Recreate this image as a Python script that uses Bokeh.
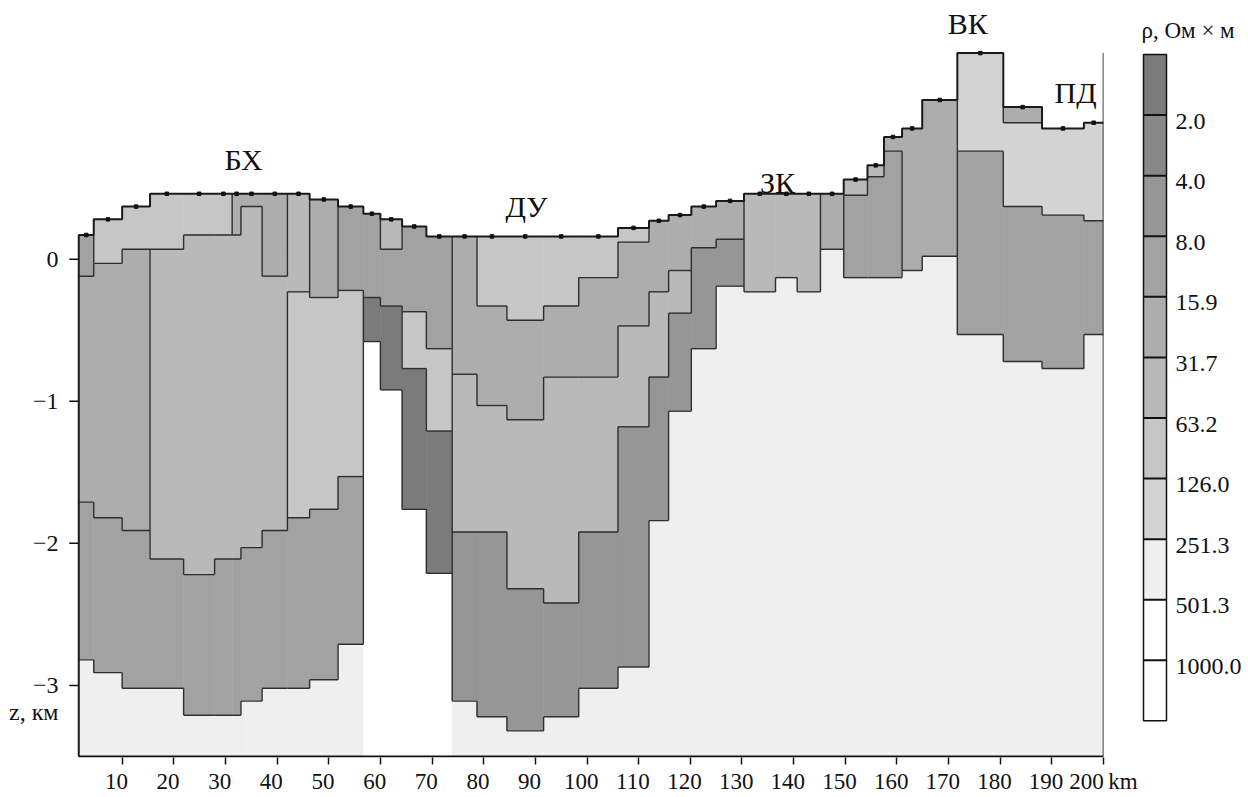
from bokeh.plotting import figure
from bokeh.layouts import row
from bokeh.models import Range1d, FixedTicker
from bokeh.embed import file_html
from bokeh.resources import INLINE
from bokeh.core.properties import value

SERIF = "Liberation Serif"

# resistivity class limits, Ohm*m (class 0 = most conductive)
rho_labels = ["2.0", "4.0", "8.0", "15.9", "31.7", "63.2", "126.0", "251.3", "501.3", "1000.0"]
class_colors = ["#7b7b7b", "#888888", "#969696", "#a2a2a2", "#adadad", "#b9b9b9",
                "#c6c6c6", "#d3d3d3", "#efefef", "#ffffff", "#ffffff"]

# model columns along the profile, km
col_edges = [1.6, 4.5, 10.0, 15.4, 21.9, 27.9, 31.3, 33.0, 37.1, 42.0, 46.3, 51.8,
             56.7, 60.0, 64.2, 68.9, 73.9, 78.7, 84.5, 91.6, 98.4, 106.0, 112.0,
             115.8, 120.2, 125.0, 130.4, 136.5, 140.7, 145.2, 149.7, 154.3, 157.5,
             161.0, 164.9, 171.7, 180.6, 188.1, 196.2, 200.0]

# relief (top of each column), km
surface = [0.17, 0.28, 0.37, 0.46, 0.46, 0.46, 0.46, 0.46, 0.46, 0.46, 0.42, 0.37,
           0.32, 0.28, 0.23, 0.16, 0.16, 0.16, 0.16, 0.16, 0.16, 0.22, 0.27,
           0.31, 0.37, 0.41, 0.46, 0.46, 0.46, 0.46, 0.56, 0.66, 0.86,
           0.92, 1.12, 1.45, 1.07, 0.92, 0.96]

# layer boundaries inside each column (z, km), top to bottom
interfaces = [
    [-0.12, -1.71, -2.82],
    [-0.03, -1.82, -2.91],
    [0.07, -1.91, -3.02],
    [0.07, -2.11, -3.02],
    [0.17, -2.22, -3.21],
    [0.17, -2.11, -3.21],
    [0.17, -2.11, -3.21],
    [0.37, -2.03, -3.11],
    [-0.12, -1.91, -3.02],
    [-0.23, -1.82, -3.02],
    [-0.27, -1.76, -2.96],
    [-0.22, -1.53, -2.71],
    [-0.27, -0.58],
    [0.07, -0.33, -0.92],
    [-0.37, -0.77, -1.76],
    [-0.63, -1.21, -2.21],
    [-0.81, -1.92, -3.11],
    [-0.33, -1.03, -1.92, -3.22],
    [-0.43, -1.13, -2.32, -3.32],
    [-0.33, -0.83, -2.42, -3.22],
    [-0.13, -0.83, -1.92, -3.02],
    [0.12, -0.47, -1.18, -2.87],
    [-0.23, -0.83, -1.84],
    [-0.08, -0.38, -1.07],
    [0.08, -0.63],
    [0.14, -0.19],
    [-0.23],
    [-0.13],
    [-0.23],
    [0.07],
    [0.45, -0.13],
    [0.58, -0.13],
    [0.76, -0.13],
    [-0.08],
    [0.02],
    [0.76, -0.53],
    [0.96, 0.37, -0.72],
    [0.31, -0.77],
    [0.27, -0.53],
]

# resistivity class of each layer, top to bottom
classes = [
    [3, 4, 3, 8], [6, 4, 3, 8], [6, 4, 3, 8], [6, 5, 3, 8], [6, 5, 3, 8],
    [6, 5, 3, 8], [4, 5, 3, 8], [4, 5, 3, 8], [4, 5, 3, 8], [5, 6, 3, 8],
    [4, 6, 3, 8], [3, 6, 3, 8], [3, 0, 9], [5, 3, 0, 9], [3, 6, 0, 9],
    [3, 6, 0, 9], [4, 5, 2, 8], [6, 4, 5, 2, 8], [6, 4, 5, 2, 8], [6, 4, 5, 2, 8],
    [6, 4, 5, 2, 8], [6, 4, 5, 2, 8], [4, 5, 2, 8], [4, 5, 2, 8], [4, 2, 8],
    [4, 2, 8], [5, 8], [5, 8], [5, 8], [4, 8],
    [5, 3, 8], [5, 3, 8], [4, 3, 8], [4, 8], [4, 8],
    [7, 3, 8], [4, 7, 3, 8], [7, 3, 8], [7, 3, 8],
]

region_names = ["БХ", "ДУ", "ЗК", "ВК", "ПД"]
region_x = [33.5, 88.3, 136.9, 173.7, 194.6]
region_z = [0.70, 0.37, 0.54, 1.66, 1.17]

x_ticks = list(range(10, 201, 10))
z_ticks = [0, -1, -2, -3]
z_title_pos = -3.19
Z_BOTTOM = -3.5
HIGH_RHO = {8, 9, 10}

# screen layout of the section
PX_PER_KM = 5.165
FRAME_L, FRAME_R = 68, 1103
FRAME_T, FRAME_B = 8, 757
FIG_W, FIG_H = 1141, 797
x_start = col_edges[-1] - (FRAME_R - FRAME_L) / PX_PER_KM
z_start = Z_BOTTOM - 1.0 / 142.1
z_end = z_start + (FRAME_B - FRAME_T) / 142.1
tick_km = 9.5 / PX_PER_KM

n_col = len(surface)

# ---- cells of the section ----
q_left, q_right, q_top, q_bottom, q_color = [], [], [], [], []
column_layers = []
for i in range(n_col):
    bounds = [surface[i]] + interfaces[i] + [Z_BOTTOM]
    layers = []
    for k, c in enumerate(classes[i]):
        q_left.append(col_edges[i])
        q_right.append(col_edges[i + 1])
        q_top.append(bounds[k])
        q_bottom.append(bounds[k + 1])
        q_color.append(class_colors[c])
        layers.append((bounds[k], bounds[k + 1], c))
    column_layers.append(layers)

# ---- contour segments between different classes ----
sx0, sy0, sx1, sy1 = [], [], [], []
for i in range(n_col):
    for d in interfaces[i]:
        sx0.append(col_edges[i]); sx1.append(col_edges[i + 1])
        sy0.append(d); sy1.append(d)
for i in range(n_col - 1):
    xe = col_edges[i + 1]
    for (ta, ba, ca) in column_layers[i]:
        for (tb, bb, cb_) in column_layers[i + 1]:
            hi, lo = min(ta, tb), max(ba, bb)
            if hi > lo and ca != cb_ and not ({ca, cb_} <= HIGH_RHO):
                sx0.append(xe); sx1.append(xe)
                sy0.append(lo); sy1.append(hi)

# relief outline
rx, ry = [col_edges[0]], [Z_BOTTOM]
for i in range(n_col):
    rx += [col_edges[i], col_edges[i + 1]]
    ry += [surface[i], surface[i]]

p = figure(width=FIG_W, height=FIG_H,
           x_range=Range1d(x_start, col_edges[-1]),
           y_range=Range1d(z_start, z_end),
           min_border_left=FRAME_L, min_border_right=FIG_W - FRAME_R,
           min_border_top=FRAME_T, min_border_bottom=FIG_H - FRAME_B,
           output_backend="svg", toolbar_location=None)
p.outline_line_color = None
p.xgrid.visible = False
p.ygrid.visible = False
p.background_fill_color = "white"

p.quad(left=q_left, right=q_right, top=q_top, bottom=q_bottom,
       fill_color=q_color, line_color=q_color, line_width=0.6)
p.segment(x0=sx0, y0=sy0, x1=sx1, y1=sy1, line_color="#2e2e2e", line_width=1.4)
p.line(rx, ry, line_color="#1a1a1a", line_width=2)
p.segment(x0=[col_edges[-1]], y0=[Z_BOTTOM], x1=[col_edges[-1]], y1=[max(surface)],
          line_color="#1a1a1a", line_width=1.6)
# base line of the section (distance axis)
p.segment(x0=[col_edges[0]], y0=[Z_BOTTOM], x1=[col_edges[-1]], y1=[Z_BOTTOM],
          line_color="#111111", line_width=2)
# depth ticks
p.segment(x0=[col_edges[0] - tick_km] * len(z_ticks), y0=z_ticks,
          x1=[col_edges[0]] * len(z_ticks), y1=z_ticks,
          line_color="#111111", line_width=1.5)

# stations on the relief
st_x = [(col_edges[i] + col_edges[i + 1]) / 2 for i in range(n_col)]
p.scatter(st_x, surface, marker="square", size=3.5, color="#111111")

p.text(x=region_x, y=region_z, text=region_names, text_font=value(SERIF),
       text_font_size="30px", text_align="center", text_baseline="middle", text_color="#111111")

# distance axis; labels sit a little left of their ticks
p.xaxis.ticker = FixedTicker(ticks=x_ticks)
x_overrides = {t: f"{t}\u2007" for t in x_ticks[:-1]}
x_overrides[x_ticks[-1]] = f"{x_ticks[-1]}\u202fkm"
p.xaxis.major_label_overrides = x_overrides
p.xaxis.minor_tick_line_color = None
p.xaxis.axis_line_color = None
p.xaxis.major_tick_in = 0
p.xaxis.major_tick_out = 7
p.xaxis.major_tick_line_color = "#111111"
p.xaxis.major_tick_line_width = 1.5
p.xaxis.major_label_standoff = 4
p.xaxis.major_label_text_font = SERIF
p.xaxis.major_label_text_font_size = "23px"
p.xaxis.major_label_text_color = "#111111"

# depth axis (labels only, ticks are drawn above)
p.yaxis.ticker = FixedTicker(ticks=z_ticks + [z_title_pos])
overrides = {t: str(t).replace("-", "\u2212") for t in z_ticks}
overrides[z_title_pos] = "z, км"
p.yaxis.major_label_overrides = overrides
p.yaxis.axis_line_color = None
p.yaxis.minor_tick_line_color = None
p.yaxis.major_tick_line_color = None
p.yaxis.major_label_standoff = 4
p.yaxis.major_label_text_font = SERIF
p.yaxis.major_label_text_font_size = "24px"
p.yaxis.major_label_text_color = "#111111"

# ---- colour scale ----
n_cls = len(class_colors)
band_px = 709 / n_cls
cb = figure(width=1248 - FIG_W, height=FIG_H, x_range=Range1d(0, 1248 - FIG_W),
            y_range=Range1d(n_cls + 39 / band_px, -49 / band_px),
            min_border=0, x_axis_location=None, y_axis_location=None,
            output_backend="svg", toolbar_location=None)
cb.outline_line_color = None
cb.grid.visible = False
BAR_L, BAR_R = 2, 25
idx = list(range(n_cls))
cb.quad(left=[BAR_L] * n_cls, right=[BAR_R] * n_cls, top=idx, bottom=[i + 1 for i in idx],
        fill_color=class_colors, line_color=None)
sep = list(range(1, n_cls))
cb.segment(x0=[BAR_L] * len(sep), y0=sep, x1=[BAR_R] * len(sep), y1=sep,
           line_color="#111111", line_width=2)
cb.quad(left=[BAR_L], right=[BAR_R], top=[0], bottom=[n_cls], fill_color=None,
        line_color="#111111", line_width=1.5)
cb.text(x=[34] * len(sep), y=[s + 0.1 for s in sep], text=rho_labels,
        text_font=value(SERIF), text_font_size="24px", text_baseline="middle",
        text_color="#111111")
cb.text(x=[0], y=[-0.39], text=["ρ, Ом × м"], text_font=value(SERIF),
        text_font_size="23px", text_baseline="middle", text_color="#111111")

layout = row(p, cb)
open("out.html", "w").write(file_html(layout, INLINE))
